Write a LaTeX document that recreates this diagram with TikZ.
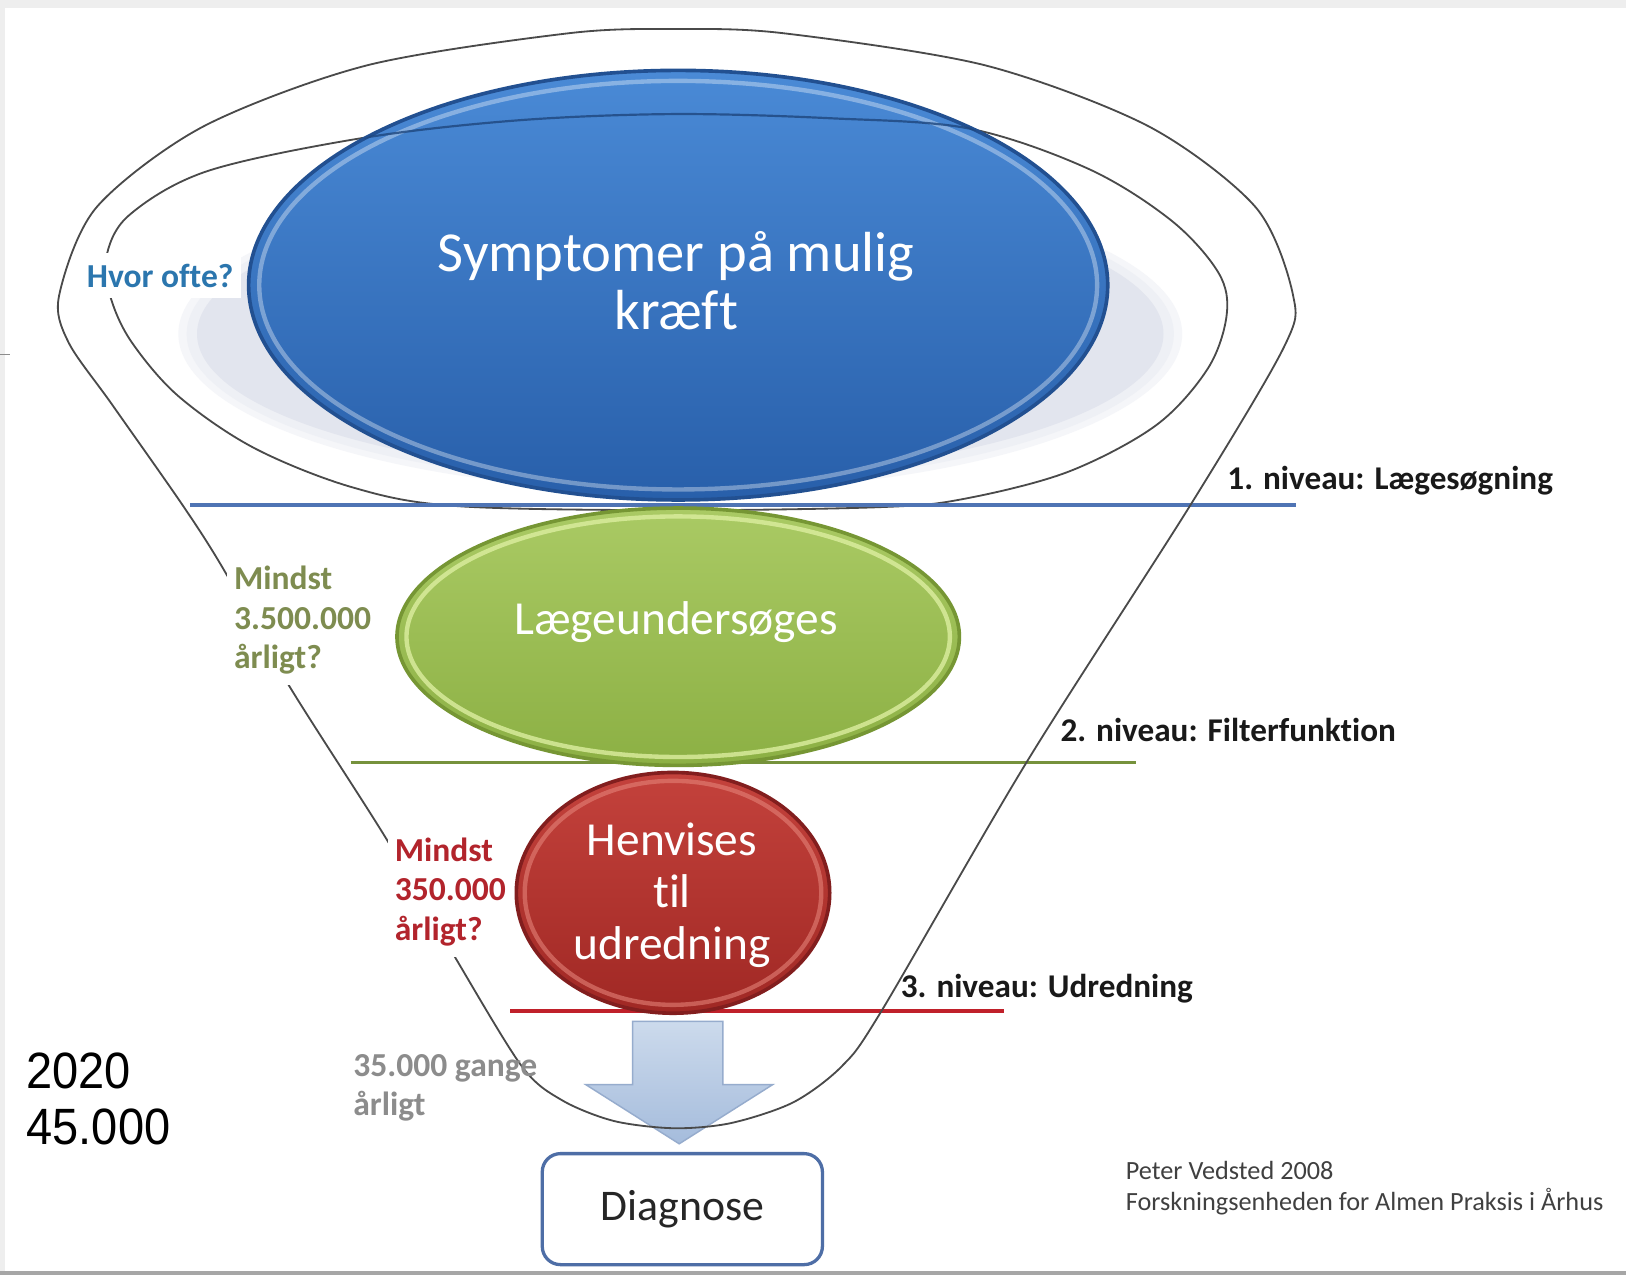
\documentclass[tikz,border=0pt]{standalone}
\usepackage{fontspec}
\usetikzlibrary{shapes.geometric}
\newfontfamily\calib[Ligatures=NoCommon]{Carlito}
\newfontfamily\narrowsans[FakeStretch=0.92]{Liberation Sans}

\definecolor{framegray}{HTML}{EEEEEE}
\definecolor{loopgray}{HTML}{4A4A4A}
\definecolor{shadowgray}{HTML}{E2E5EE}
\definecolor{shadowsoft}{HTML}{EEF0F5}
\definecolor{lvlblue}{HTML}{4F74B4}
\definecolor{lvlgreen}{HTML}{76923C}
\definecolor{lvlred}{HTML}{C0202A}
\definecolor{askblue}{HTML}{2B76AE}
\definecolor{askgreen}{HTML}{7E8C50}
\definecolor{askred}{HTML}{B2242C}
\definecolor{askgray}{HTML}{8C8C8C}
\definecolor{boxblue}{HTML}{4E6EA6}
% bubble colours
\definecolor{symtop}{RGB}{74,138,214}
\definecolor{symbot}{RGB}{40,95,170}
\definecolor{symedge}{RGB}{34,80,145}
\definecolor{symline}{RGB}{30,70,125}
\definecolor{laegetop}{RGB}{170,202,100}
\definecolor{laegebot}{RGB}{140,176,68}
\definecolor{laegeedge}{RGB}{118,150,52}
\definecolor{laegerim}{RGB}{220,238,160}
\definecolor{henvtop}{RGB}{196,66,60}
\definecolor{henvbot}{RGB}{160,40,36}
\definecolor{henvedge}{RGB}{130,30,30}
\definecolor{henvrim}{RGB}{228,130,120}
\definecolor{arrowtop}{RGB}{204,218,236}
\definecolor{arrowbot}{RGB}{165,188,220}
\definecolor{arrowedge}{RGB}{150,172,205}

\begin{document}
\begin{tikzpicture}[x=0.01cm, y=-0.01cm,
  funnel/.style={draw=loopgray, line width=0.5pt},
  bubble/.style={ellipse, inner sep=0pt, line width=1pt},
  sidelabel/.style={font=\calib\bfseries\fontsize{9.2}{10.9}\selectfont, align=left,
                    anchor=base west, inner xsep=2pt, inner ysep=3pt},
  levellabel/.style={font=\calib\bfseries\fontsize{9.1}{11}\selectfont, text=black!90,
                     anchor=base west, inner sep=0pt},
  levelline/.style={line width=0.9pt}]

\useasboundingbox (0,0) rectangle (1568,1230);
\fill[white] (0,0) rectangle (1568,1230);
% page frame
\fill[framegray] (0,0) rectangle (1568,8);
\fill[framegray] (0,8) rectangle (5,1226);
\fill[black!35] (0,1226) rectangle (1568,1230);
\draw[black!45, line width=0.4pt] (0,342) -- (10,342);

% soft shadow behind the top bubble
\fill[shadowsoft!60] (656,322) ellipse [x radius=484, y radius=152];
\fill[shadowsoft] (656,322) ellipse [x radius=476, y radius=146];
\fill[shadowgray] (656,322) ellipse [x radius=466, y radius=138];

% inner loop round the top bubble
\draw[funnel] plot[smooth cycle, tension=0.55] coordinates {
  (650,110) (800,114) (935,124) (1050,163) (1130,213) (1175,263) (1183,303)
  (1165,355) (1115,410) (1030,455) (930,481) (850,489) (650,492) (440,488)
  (340,470) (245,432) (172,382) (127,330) (107,288) (102,250) (124,208)
  (200,165) (350,133) (500,116)};

% level lines
\coordinate (b1) at (183,487);  \coordinate (b2) at (1250,487);
\coordinate (g1) at (338,735);  \coordinate (g2) at (1095,735);
\coordinate (r1) at (492,975);  \coordinate (r2) at (968,975);
\draw[levelline, lvlblue] (b1) -- (b2);
\draw[levelline, lvlgreen] (g1) -- (g2);
\draw[levelline, lvlred, line width=1.2pt] (r1) -- (r2);

% bubbles
\node[bubble, draw=symedge, top color=symtop, bottom color=symbot,
      minimum width=8.28cm, minimum height=4.14cm] (sym) at (654,275) {};
\draw[white, opacity=0.35, line width=1.2pt] (sym.center) ellipse [x radius=404, y radius=197];
\node[bubble, draw=laegeedge, top color=laegetop, bottom color=laegebot,
      minimum width=5.42cm, minimum height=2.48cm] (laege) at (654,614) {};
\draw[laegerim, opacity=0.8, line width=1.2pt] (laege.center) ellipse [x radius=262, y radius=116];
\node[bubble, draw=henvedge, top color=henvtop, bottom color=henvbot,
      minimum width=3.02cm, minimum height=2.32cm] (henv) at (649,861) {};
\draw[henvrim, opacity=0.6, line width=1.2pt] (henv.center) ellipse [x radius=143, y radius=108];

% part of the inner loop that shows through the top bubble
\begin{scope}
  \clip (sym.center) ellipse [x radius=414, y radius=207];
  \draw[symline, line width=0.6pt, opacity=0.8]
    plot[smooth cycle, tension=0.55] coordinates {
  (650,110) (800,114) (935,124) (1050,163) (1130,213) (1175,263) (1183,303)
  (1165,355) (1115,410) (1030,455) (930,481) (850,489) (650,492) (440,488)
  (340,470) (245,432) (172,382) (127,330) (107,288) (102,250) (124,208)
  (200,165) (350,133) (500,116)};
\end{scope}

% bubble texts (base = baseline of the last line)
\node[font=\calib\fontsize{15.5}{16}\selectfont, text=white, align=center, anchor=base]
  (symtxt) at (652,318) {Symptomer på mulig\\kræft};
\node[font=\calib\fontsize{13}{14}\selectfont, text=white, anchor=base]
  (laegetxt) at (652,612) {Lægeundersøges};
\node[font=\calib\fontsize{13}{14.2}\selectfont, text=white, align=center, anchor=base]
  (henvtxt) at (648,925) {Henvises\\til\\udredning};

% arrow down to the diagnosis
\path[top color=arrowtop, bottom color=arrowbot, draw=arrowedge, line width=0.4pt]
  (610,985) -- (697,985) -- (697,1046) -- (745,1046) -- (655,1103)
  -- (565,1046) -- (610,1046) -- cycle;

\node[draw=boxblue, line width=0.9pt, rounded corners=5pt, fill=white,
      minimum width=2.70cm, minimum height=1.07cm,
      font=\calib\fontsize{12}{14}\selectfont, text=black!85] (diag) at (658,1166) {Diagnose};

% outer funnel
\draw[funnel] plot[smooth cycle, tension=0.5] coordinates {
  (652,28) (755,32) (950,63) (1108,122) (1211,200) (1247,285) (1238,335)
  (1148,487) (990,735) (850,975) (812,1028) (765,1063) (705,1083) (650,1088)
  (592,1081) (542,1061) (503,1028) (437,920) (372,808) (278,660) (215,548)
  (176,487) (108,390) (66,330) (57,285) (93,200) (196,122) (354,63) (549,32)};

% side labels
\node[sidelabel, text=askblue, fill=white] (often) at (76,277) {Hvor ofte?};
\node[sidelabel, text=askgreen, fill=white] (many) at (218,645) {Mindst\\3.500.000\\årligt?};
\node[sidelabel, text=askred, fill=white] (ref) at (373,907) {Mindst\\350.000\\årligt?};
\node[sidelabel, text=askgray] (times) at (333,1076) {35.000 gange\\årligt};

% level labels
\node[levellabel] (lvl1) at (1183,472) {1. niveau: Lægesøgning};
\node[levellabel] (lvl2) at (1022,715) {2. niveau: Filterfunktion};
\node[levellabel] (lvl3) at (868,962) {3. niveau: Udredning};

% year note
\node[font=\narrowsans\fontsize{14}{15.4}\selectfont, align=left, anchor=base west, inner sep=0pt]
  (year) at (25,1104) {2020\\45.000};

% credit
\node[font=\calib\fontsize{7.2}{8.5}\selectfont, text=black!75, align=left, anchor=base west, inner sep=0pt]
  (credit) at (1085,1167) {Peter Vedsted 2008\\Forskningsenheden for Almen Praksis i Århus};
\end{tikzpicture}
\end{document}
